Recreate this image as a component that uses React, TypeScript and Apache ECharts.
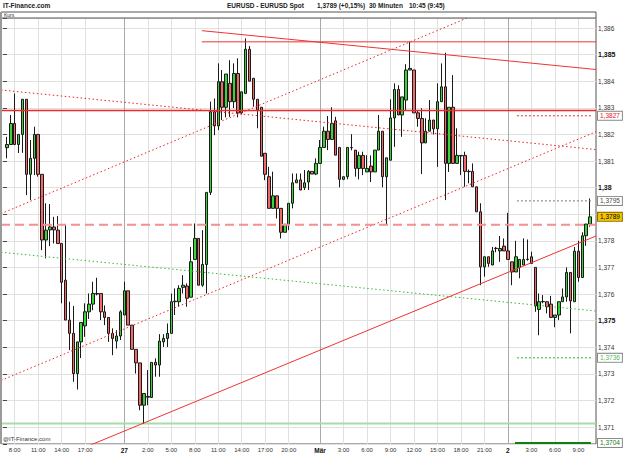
import React, { useEffect, useRef } from 'react';
import * as echarts from 'echarts';

// ---- candle data (30-minute candles, EUR/USD) ----
const opens = [
  1.38150, 1.38162, 1.38241, 1.38162, 1.38200, 1.38332, 1.38050, 1.38110, 1.38200, 1.38050,
  1.37803, 1.37841, 1.37852, 1.37840, 1.37790, 1.37652, 1.37502, 1.37452, 1.37301, 1.37420,
  1.37480, 1.37533, 1.37562, 1.37602, 1.37602, 1.37533, 1.37512, 1.37452, 1.37423, 1.37442,
  1.37521, 1.37612, 1.37483, 1.37392, 1.37341, 1.37182, 1.37215, 1.37211, 1.37343, 1.37333,
  1.37420, 1.37433, 1.37452, 1.37571, 1.37571, 1.37625, 1.37630, 1.37588, 1.37730, 1.37809,
  1.37633, 1.37711, 1.37982, 1.38285, 1.38232, 1.38398, 1.38302, 1.38392, 1.38323, 1.38429,
  1.38281, 1.38354, 1.38520, 1.38411, 1.38332, 1.38302, 1.38129, 1.38041, 1.37922, 1.37969,
  1.37922, 1.37832, 1.37862, 1.37941, 1.38018, 1.38029, 1.38000, 1.38021, 1.38061, 1.38051,
  1.38091, 1.38151, 1.38212, 1.38181, 1.38251, 1.38151, 1.38031, 1.38041, 1.38151, 1.38141,
  1.38072, 1.38121, 1.38059, 1.38081, 1.38059, 1.38141, 1.38212, 1.38041, 1.38103, 1.38262,
  1.38369, 1.38273, 1.38329, 1.38442, 1.38442, 1.38281, 1.38260, 1.38168, 1.38212, 1.38254,
  1.38221, 1.38323, 1.38379, 1.38091, 1.38302, 1.38091, 1.38121, 1.38121, 1.38061, 1.38061,
  1.38003, 1.37909, 1.37702, 1.37740, 1.37709, 1.37771, 1.37762, 1.37780, 1.37762, 1.37721,
  1.37683, 1.37700, 1.37709, 1.37730, 1.37740, 1.37700, 1.37542, 1.37571, 1.37571, 1.37562,
  1.37512, 1.37521, 1.37571, 1.37589, 1.37681, 1.37571, 1.37761, 1.37662, 1.37819, 1.37863,
];
const closes = [
  1.38162, 1.38241, 1.38162, 1.38200, 1.38332, 1.38050, 1.38110, 1.38200, 1.38050, 1.37803,
  1.37840, 1.37852, 1.37841, 1.37790, 1.37644, 1.37502, 1.37452, 1.37301, 1.37420, 1.37493,
  1.37533, 1.37562, 1.37602, 1.37600, 1.37533, 1.37512, 1.37452, 1.37433, 1.37442, 1.37533,
  1.37612, 1.37483, 1.37392, 1.37341, 1.37182, 1.37226, 1.37212, 1.37343, 1.37333, 1.37423,
  1.37433, 1.37452, 1.37571, 1.37573, 1.37621, 1.37633, 1.37584, 1.37721, 1.37809, 1.37633,
  1.37711, 1.37982, 1.38285, 1.38232, 1.38398, 1.38302, 1.38427, 1.38323, 1.38429, 1.38281,
  1.38360, 1.38520, 1.38400, 1.38332, 1.38291, 1.38118, 1.38050, 1.37922, 1.37969, 1.37922,
  1.37832, 1.37862, 1.37941, 1.38018, 1.38029, 1.37991, 1.38018, 1.38061, 1.38051, 1.38091,
  1.38151, 1.38212, 1.38181, 1.38241, 1.38122, 1.38031, 1.38041, 1.38151, 1.38150, 1.38072,
  1.38121, 1.38072, 1.38072, 1.38059, 1.38141, 1.38212, 1.38041, 1.38112, 1.38262, 1.38369,
  1.38273, 1.38341, 1.38442, 1.38448, 1.38281, 1.38260, 1.38168, 1.38212, 1.38254, 1.38221,
  1.38323, 1.38379, 1.38091, 1.38302, 1.38091, 1.38121, 1.38119, 1.38061, 1.38060, 1.38003,
  1.37909, 1.37702, 1.37740, 1.37715, 1.37762, 1.37772, 1.37771, 1.37762, 1.37730, 1.37683,
  1.37740, 1.37730, 1.37730, 1.37731, 1.37715, 1.37555, 1.37571, 1.37572, 1.37552, 1.37512,
  1.37521, 1.37571, 1.37589, 1.37681, 1.37574, 1.37761, 1.37662, 1.37819, 1.37863, 1.37890,
];
const lows = [
  1.38110, 1.38160, 1.38160, 1.38130, 1.38131, 1.37972, 1.37953, 1.38047, 1.38041, 1.37765,
  1.37734, 1.37780, 1.37790, 1.37790, 1.37565, 1.37502, 1.37389, 1.37270, 1.37241, 1.37359,
  1.37439, 1.37506, 1.37539, 1.37595, 1.37502, 1.37483, 1.37420, 1.37370, 1.37395, 1.37427,
  1.37521, 1.37483, 1.37392, 1.37301, 1.37163, 1.37113, 1.37182, 1.37211, 1.37289, 1.37289,
  1.37401, 1.37401, 1.37452, 1.37521, 1.37552, 1.37602, 1.37552, 1.37588, 1.37730, 1.37633,
  1.37627, 1.37602, 1.37972, 1.38197, 1.38216, 1.38254, 1.38264, 1.38266, 1.38299, 1.38264,
  1.38275, 1.38354, 1.38400, 1.38304, 1.38223, 1.38118, 1.38028, 1.37922, 1.37922, 1.37884,
  1.37809, 1.37832, 1.37840, 1.37922, 1.38018, 1.37991, 1.37991, 1.37991, 1.38051, 1.38047,
  1.38091, 1.38151, 1.38141, 1.38181, 1.38122, 1.38001, 1.38028, 1.38031, 1.38140, 1.38041,
  1.38031, 1.38047, 1.38059, 1.38021, 1.38059, 1.38141, 1.38001, 1.37862, 1.38103, 1.38153,
  1.38273, 1.38191, 1.38291, 1.38442, 1.38281, 1.38229, 1.38051, 1.38168, 1.38212, 1.38200,
  1.38078, 1.38323, 1.37953, 1.38059, 1.38091, 1.38091, 1.38047, 1.38003, 1.38016, 1.38003,
  1.37909, 1.37633, 1.37665, 1.37702, 1.37709, 1.37757, 1.37721, 1.37762, 1.37730, 1.37633,
  1.37683, 1.37659, 1.37709, 1.37725, 1.37715, 1.37533, 1.37445, 1.37565, 1.37527, 1.37512,
  1.37475, 1.37502, 1.37571, 1.37571, 1.37452, 1.37571, 1.37646, 1.37662, 1.37781, 1.37853,
];
const highs = [
  1.38191, 1.38273, 1.38354, 1.38200, 1.38332, 1.38332, 1.38179, 1.38229, 1.38200, 1.38050,
  1.37941, 1.37938, 1.37890, 1.37893, 1.37790, 1.37863, 1.37571, 1.37555, 1.37420, 1.37493,
  1.37565, 1.37602, 1.37646, 1.37661, 1.37602, 1.37557, 1.37512, 1.37471, 1.37464, 1.37539,
  1.37646, 1.37612, 1.37483, 1.37392, 1.37341, 1.37226, 1.37314, 1.37343, 1.37358, 1.37449,
  1.37449, 1.37489, 1.37602, 1.37621, 1.37633, 1.37671, 1.37640, 1.37777, 1.37865, 1.37809,
  1.37840, 1.37982, 1.38323, 1.38335, 1.38467, 1.38442, 1.38427, 1.38479, 1.38467, 1.38486,
  1.38360, 1.38561, 1.38532, 1.38411, 1.38332, 1.38302, 1.38129, 1.38078, 1.38060, 1.37969,
  1.37922, 1.37862, 1.37941, 1.38053, 1.38053, 1.38053, 1.38066, 1.38066, 1.38061, 1.38110,
  1.38179, 1.38229, 1.38269, 1.38302, 1.38266, 1.38151, 1.38041, 1.38151, 1.38201, 1.38141,
  1.38135, 1.38135, 1.38122, 1.38121, 1.38141, 1.38273, 1.38212, 1.38112, 1.38332, 1.38392,
  1.38385, 1.38341, 1.38464, 1.38548, 1.38442, 1.38291, 1.38298, 1.38261, 1.38329, 1.38254,
  1.38392, 1.38467, 1.38507, 1.38302, 1.38423, 1.38223, 1.38121, 1.38135, 1.38068, 1.38091,
  1.38003, 1.37941, 1.37740, 1.37740, 1.37777, 1.37777, 1.37818, 1.37809, 1.37905, 1.37721,
  1.37800, 1.37730, 1.37809, 1.37805, 1.37759, 1.37700, 1.37602, 1.37596, 1.37571, 1.37593,
  1.37521, 1.37571, 1.37621, 1.37700, 1.37681, 1.37777, 1.37800, 1.37832, 1.37863, 1.37959,
];

// ---- x axis ticks (candle index -> label) ----
const tickCandles = [2, 8, 14, 20, 30, 36, 42, 48, 54, 60, 66, 72, 80, 86, 92, 98, 104, 110, 116, 122, 128, 134, 140, 146];
const tickLabels = ['8:00', '11:00', '14:00', '17:00', '27', '2:00', '5:00', '8:00', '11:00', '14:00', '17:00', '20:00',
  'Mär', '3:00', '6:00', '9:00', '12:00', '15:00', '18:00', '21:00', '2', '3:00', '6:00', '9:00'];
const dayLabels = ['27', 'Mär', '2'];

// ---- y axis range ----
const yMin = 1.370361;
const yMax = 1.386376;

// ---- drawn lines: [slot, price] endpoints (slot = candle index + 1) ----
const resistHorizontal = [[-0.5, 1.3829], [151.5, 1.3829]];
const lastDashed = [[-0.5, 1.3786], [151.5, 1.3786]];
const topHorizontal = [[50.8, 1.38548], [151.5, 1.38548]];
const topFalling = [[50.8, 1.3859], [151.5, 1.38444]];
const dottedFalling = [[-0.5, 1.38367], [151.5, 1.38143]];
const channelUpper = [[-0.5, 1.37902], [151.5, 1.38841]];
const channelLower = [[-0.5, 1.37275], [151.5, 1.3821]];
const supportRising = [[-0.5, 1.36893], [151.5, 1.37818]];
const greenFalling = [[-0.5, 1.37757], [151.5, 1.37536]];
const greenBase = [[-0.5, 1.37113], [151.5, 1.37113]];
const markGray = [[131.3, 1.3795], [150.5, 1.3795]];
const markRed = [[131.3, 1.3827], [150.5, 1.3827]];
const markGreen = [[131.3, 1.3736], [150.5, 1.3736]];
const markDarkGreen = [[130.8, 1.3704], [150.2, 1.3704]];

// ---- price boxes on the right axis ----
const boxValues = [1.3827, 1.3795, 1.3789, 1.3736, 1.3704];
const boxText = ['1,3827', '1,3795', '1,3789', '1,3736', '1,3704'];
const boxColors = ['#e02020', '#444444', '#000000', '#55bb55', '#108010'];
const boxFills = ['#ffffff', '#ffffff', '#f4c400', '#ffffff', '#ffffff'];
const lastPrice = 1.3789;

const FONT = 'Liberation Sans';

export default function App() {
  const ref = useRef<HTMLDivElement>(null);
  useEffect(() => {
    document.body.style.margin = '0';
    const chart = echarts.init(ref.current!, null, { renderer: 'svg' });
    const SLOTS = opens.length + 2;
    const slotLabel: string[] = new Array(SLOTS).fill('');
    tickCandles.forEach((c, j) => { slotLabel[c + 1] = tickLabels[j]; });
    const cats = slotLabel.map((_, k) => 's' + k);
    const candles: any[] = ['-', ...opens.map((o, i) => [o, closes[i], lows[i], highs[i]]), '-'];

    const lineSeries = (data: number[][], color: string, type: any, width = 1, z = 4) => ({
      type: 'line', xAxisIndex: 1, yAxisIndex: 0, data, symbol: 'none', silent: true, z,
      lineStyle: { color, type, width }, clip: true,
    });

    const option: any = {
      animation: false,
      backgroundColor: '#ffffff',
      grid: { left: 1, top: 18, width: 595, height: 426, show: true, borderColor: '#555', borderWidth: 1, backgroundColor: '#fff' },
      xAxis: [
        {
          type: 'category', data: cats, boundaryGap: true,
          axisLine: { show: false }, axisTick: { show: false },
          splitLine: { show: false },
          axisLabel: {
            interval: (idx: number) => slotLabel[idx] !== '',
            formatter: (_v: string, idx: number) => {
              const s = slotLabel[idx];
              return dayLabels.includes(s) ? `{b|${s}}` : s;
            },
            fontSize: 6, color: '#333', fontFamily: FONT, margin: 3,
            rich: { b: { fontSize: 6.5, fontWeight: 'bold', color: '#111', fontFamily: FONT } },
          },
        },
        { type: 'value', min: -0.5, max: SLOTS - 0.5, show: false, gridIndex: 0 },
      ],
      yAxis: {
        type: 'value', position: 'right', min: yMin, max: yMax, scale: true,
        minInterval: 0.001, maxInterval: 0.001, splitNumber: 16,
        axisLine: { show: false },
        axisTick: { show: true, length: 4, lineStyle: { color: '#444' } },
        splitLine: { show: true, lineStyle: { color: '#e0e0e0', width: 1 } },
        axisLabel: {
          margin: 2, fontSize: 6.5, color: '#333', fontFamily: FONT,
          formatter: (v: number) => {
            const m = v * 1000;
            if (Math.abs(m - Math.round(m)) > 1e-4) return '';
            // the last-price box covers the tick label next to it
            if (Math.abs(v - lastPrice) < 0.0004) return '';
            const s = v.toFixed(3).replace(/0+$/, '').replace('.', ',');
            return Math.round(m) % 5 === 0 ? `{b|${s}}` : s;
          },
          rich: { b: { fontSize: 7, fontWeight: 'bold', color: '#111', fontFamily: FONT } },
        },
      },
      series: [
        {
          type: 'line', xAxisIndex: 1, yAxisIndex: 0, data: [], symbol: 'none', silent: true,
          markLine: {
            z: 1, silent: true, symbol: ['none', 'none'], label: { show: false }, precision: 3,
            data: tickCandles.map((c, j) => ({
              xAxis: c + 1,
              lineStyle: { color: dayLabels.includes(tickLabels[j]) ? '#a9a9a9' : '#e0e0e0', type: 'solid', width: 1 },
            })),
          },
        },
        {
          type: 'candlestick', xAxisIndex: 0, yAxisIndex: 0, data: candles, barWidth: 3, z: 3,
          itemStyle: { color: '#3ad43a', color0: '#f06868', borderColor: '#1a1a1a', borderColor0: '#1a1a1a', borderWidth: 1 },
        },
        lineSeries(greenBase, '#a6dea6', 'solid', 2, 2),
        lineSeries(greenFalling, '#33bb33', [1.5, 2.5], 1),
        lineSeries(dottedFalling, '#ee2222', [1.5, 2.5], 1),
        lineSeries(channelUpper, '#ee2222', [1.5, 2.5], 1),
        lineSeries(channelLower, '#ee2222', [1.5, 2.5], 1),
        lineSeries(supportRising, '#ee3333', 'solid', 1),
        lineSeries(topFalling, '#ee3333', 'solid', 1),
        lineSeries(topHorizontal, '#ee3333', 'solid', 1),
        lineSeries(lastDashed, '#f49090', [9, 5], 2),
        lineSeries(markGray, '#777777', [2, 2], 1),
        lineSeries(markRed, '#e03030', [2, 2], 1),
        lineSeries(markGreen, '#33aa33', [2, 2], 1),
        lineSeries(markDarkGreen, '#108010', 'solid', 2),
        {
          ...lineSeries(resistHorizontal, '#f02828', 'solid', 1.5),
          markLine: {
            z: 20, silent: true, symbol: ['none', 'none'], precision: 6,
            lineStyle: { color: 'rgba(0,0,0,0)', width: 1 },
            data: boxValues.map((v, j) => ({
              yAxis: v,
              label: {
                show: true, position: 'end', distance: 2, formatter: boxText[j],
                color: boxColors[j], backgroundColor: boxFills[j],
                borderColor: j === 2 ? '#8a6d00' : '#888888', borderWidth: 1,
                padding: [1, 2, 0, 2], fontSize: 6.5, fontFamily: FONT,
              },
            })),
          },
        },
      ],
      graphic: [
        { type: 'rect', shape: { x: 1, y: 12, width: 595, height: 6 }, style: { fill: '#ffffff', stroke: '#555', lineWidth: 1 }, z: 10 },
        { type: 'rect', shape: { x: 0, y: 12, width: 2, height: 432 }, style: { fill: '#9a9a9a' }, z: 10 },
        { type: 'text', x: 4, y: 12.5, style: { text: 'Kurs', fontSize: 5, fontFamily: FONT, fill: '#333' }, z: 11 },
        { type: 'text', x: 3, y: 436, style: { text: '@IT-Finance.com', fontSize: 6, fontFamily: FONT, fill: '#333' }, z: 11 },
        { type: 'text', x: 3, y: 2, style: { text: 'IT-Finance.com', fontSize: 6.5, fontWeight: 'bold', fontFamily: FONT, fill: '#222' }, z: 11 },
        { type: 'text', x: 227, y: 2, style: { text: 'EURUSD - EURUSD Spot', fontSize: 6.5, fontWeight: 'bold', fontFamily: FONT, fill: '#222' }, z: 11 },
        { type: 'text', x: 317, y: 2, style: { text: '1,3789 (+0,15%)', fontSize: 6.5, fontWeight: 'bold', fontFamily: FONT, fill: '#222' }, z: 11 },
        { type: 'text', x: 369, y: 2, style: { text: '30 Minuten', fontSize: 6.5, fontWeight: 'bold', fontFamily: FONT, fill: '#222' }, z: 11 },
        { type: 'text', x: 409, y: 2, style: { text: '10:45 (9:45)', fontSize: 6.5, fontWeight: 'bold', fontFamily: FONT, fill: '#222' }, z: 11 },
      ],
    };
    chart.setOption(option);
    return () => chart.dispose();
  }, []);
  return <div ref={ref} style={{ width: 625, height: 455 }} />;
}
